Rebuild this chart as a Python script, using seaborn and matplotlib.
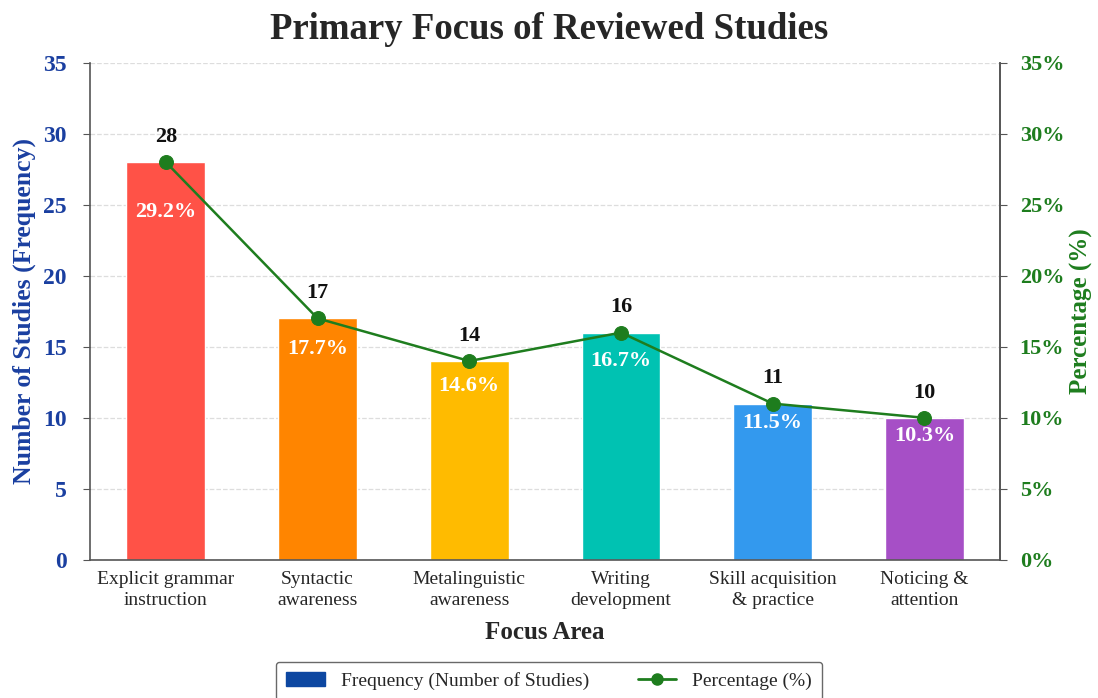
import numpy as np
import seaborn as sns
import matplotlib.pyplot as plt
from matplotlib.patches import Patch
from matplotlib.lines import Line2D
from matplotlib.ticker import FuncFormatter

# data
categories = ['Explicit grammar\ninstruction', 'Syntactic\nawareness', 'Metalinguistic\nawareness',
              'Writing\ndevelopment', 'Skill acquisition\n& practice', 'Noticing &\nattention']
counts = [28, 17, 14, 16, 11, 10]
percents = [29.2, 17.7, 14.6, 16.7, 11.5, 10.3]
bar_colors = ['#FF5247', '#FF8500', '#FFBB00', '#00C2B2', '#3399EE', '#A64FC6']

sns.set_style('white')
plt.rcParams['font.family'] = ['Liberation Serif', 'DejaVu Serif']

blue = '#1A3FA0'
green = '#1E7D1E'

fig = plt.figure(figsize=(10.98, 6.98), dpi=100)
ax = fig.add_axes([0.082, 0.198, 0.829, 0.712])

sns.barplot(x=categories, y=counts, hue=categories, palette=bar_colors, legend=False,
            width=0.52, saturation=1, ax=ax)
sns.lineplot(x=np.arange(len(counts)), y=counts, color=green, marker='o', markersize=10,
             markeredgecolor=green, linewidth=1.8, ax=ax, zorder=5)

ax.set_xlim(-0.5, 5.5)
ax.set_ylim(0, 35)
ax.set_yticks(range(0, 36, 5))
ax.yaxis.grid(True, linestyle='--', color='#DDDDDD', linewidth=0.9)
ax.set_axisbelow(True)
ax.spines['top'].set_visible(False)
for s in ['left', 'bottom', 'right']:
    ax.spines[s].set_color('#555555')
    ax.spines[s].set_linewidth(1.2)
ax.tick_params(axis='y', labelsize=17, labelcolor=blue, length=5, color='#555555', pad=12)
ax.tick_params(axis='x', labelsize=14, length=0, pad=8)
for t in ax.get_yticklabels():
    t.set_fontweight('bold')
for t in ax.get_xticklabels():
    t.set_linespacing(1.3)
ax.set_ylabel('Number of Studies (Frequency)', fontsize=18.5, fontweight='bold', color=blue, labelpad=5)
ax.set_xlabel('Focus Area', fontsize=18, fontweight='bold', labelpad=9)

ax2 = ax.twinx()
ax2.set_ylim(0, 35)
ax2.set_yticks(range(0, 36, 5))
ax2.yaxis.set_major_formatter(FuncFormatter(lambda v, p: f'{v:.0f}%'))
ax2.tick_params(axis='y', labelsize=16, labelcolor=green, length=5, color='#555555', pad=9)
for t in ax2.get_yticklabels():
    t.set_fontweight('bold')
ax2.set_ylabel('Percentage (%)', fontsize=18, fontweight='bold', color=green, labelpad=4)
for s in ['top', 'left', 'bottom']:
    ax2.spines[s].set_visible(False)
ax2.spines['right'].set_color('#555555')
ax2.spines['right'].set_linewidth(1.2)

for i, (c, p) in enumerate(zip(counts, percents)):
    ax.annotate(f'{c}', (i, c), xytext=(0, 11), textcoords='offset points', ha='center',
                va='bottom', fontsize=16, fontweight='bold', color='#111111')
    ax.text(i, c * 0.875, f'{p}%', ha='center', va='center', fontsize=16,
            fontweight='bold', color='white')

fig.suptitle('Primary Focus of Reviewed Studies', fontsize=26.5, fontweight='bold', y=0.983)

handles = [Patch(color='#0D47A1', label='Frequency (Number of Studies)'),
           Line2D([0], [0], color=green, marker='o', markersize=8, linewidth=2, label='Percentage (%)')]
fig.legend(handles=handles, loc='lower center', bbox_to_anchor=(0.5, -0.018), ncol=2, fontsize=14,
           frameon=True, edgecolor='#444444', fancybox=True, handlelength=2.0, columnspacing=2.5,
           borderpad=0.55)

fig.savefig('out.png', dpi=100)
